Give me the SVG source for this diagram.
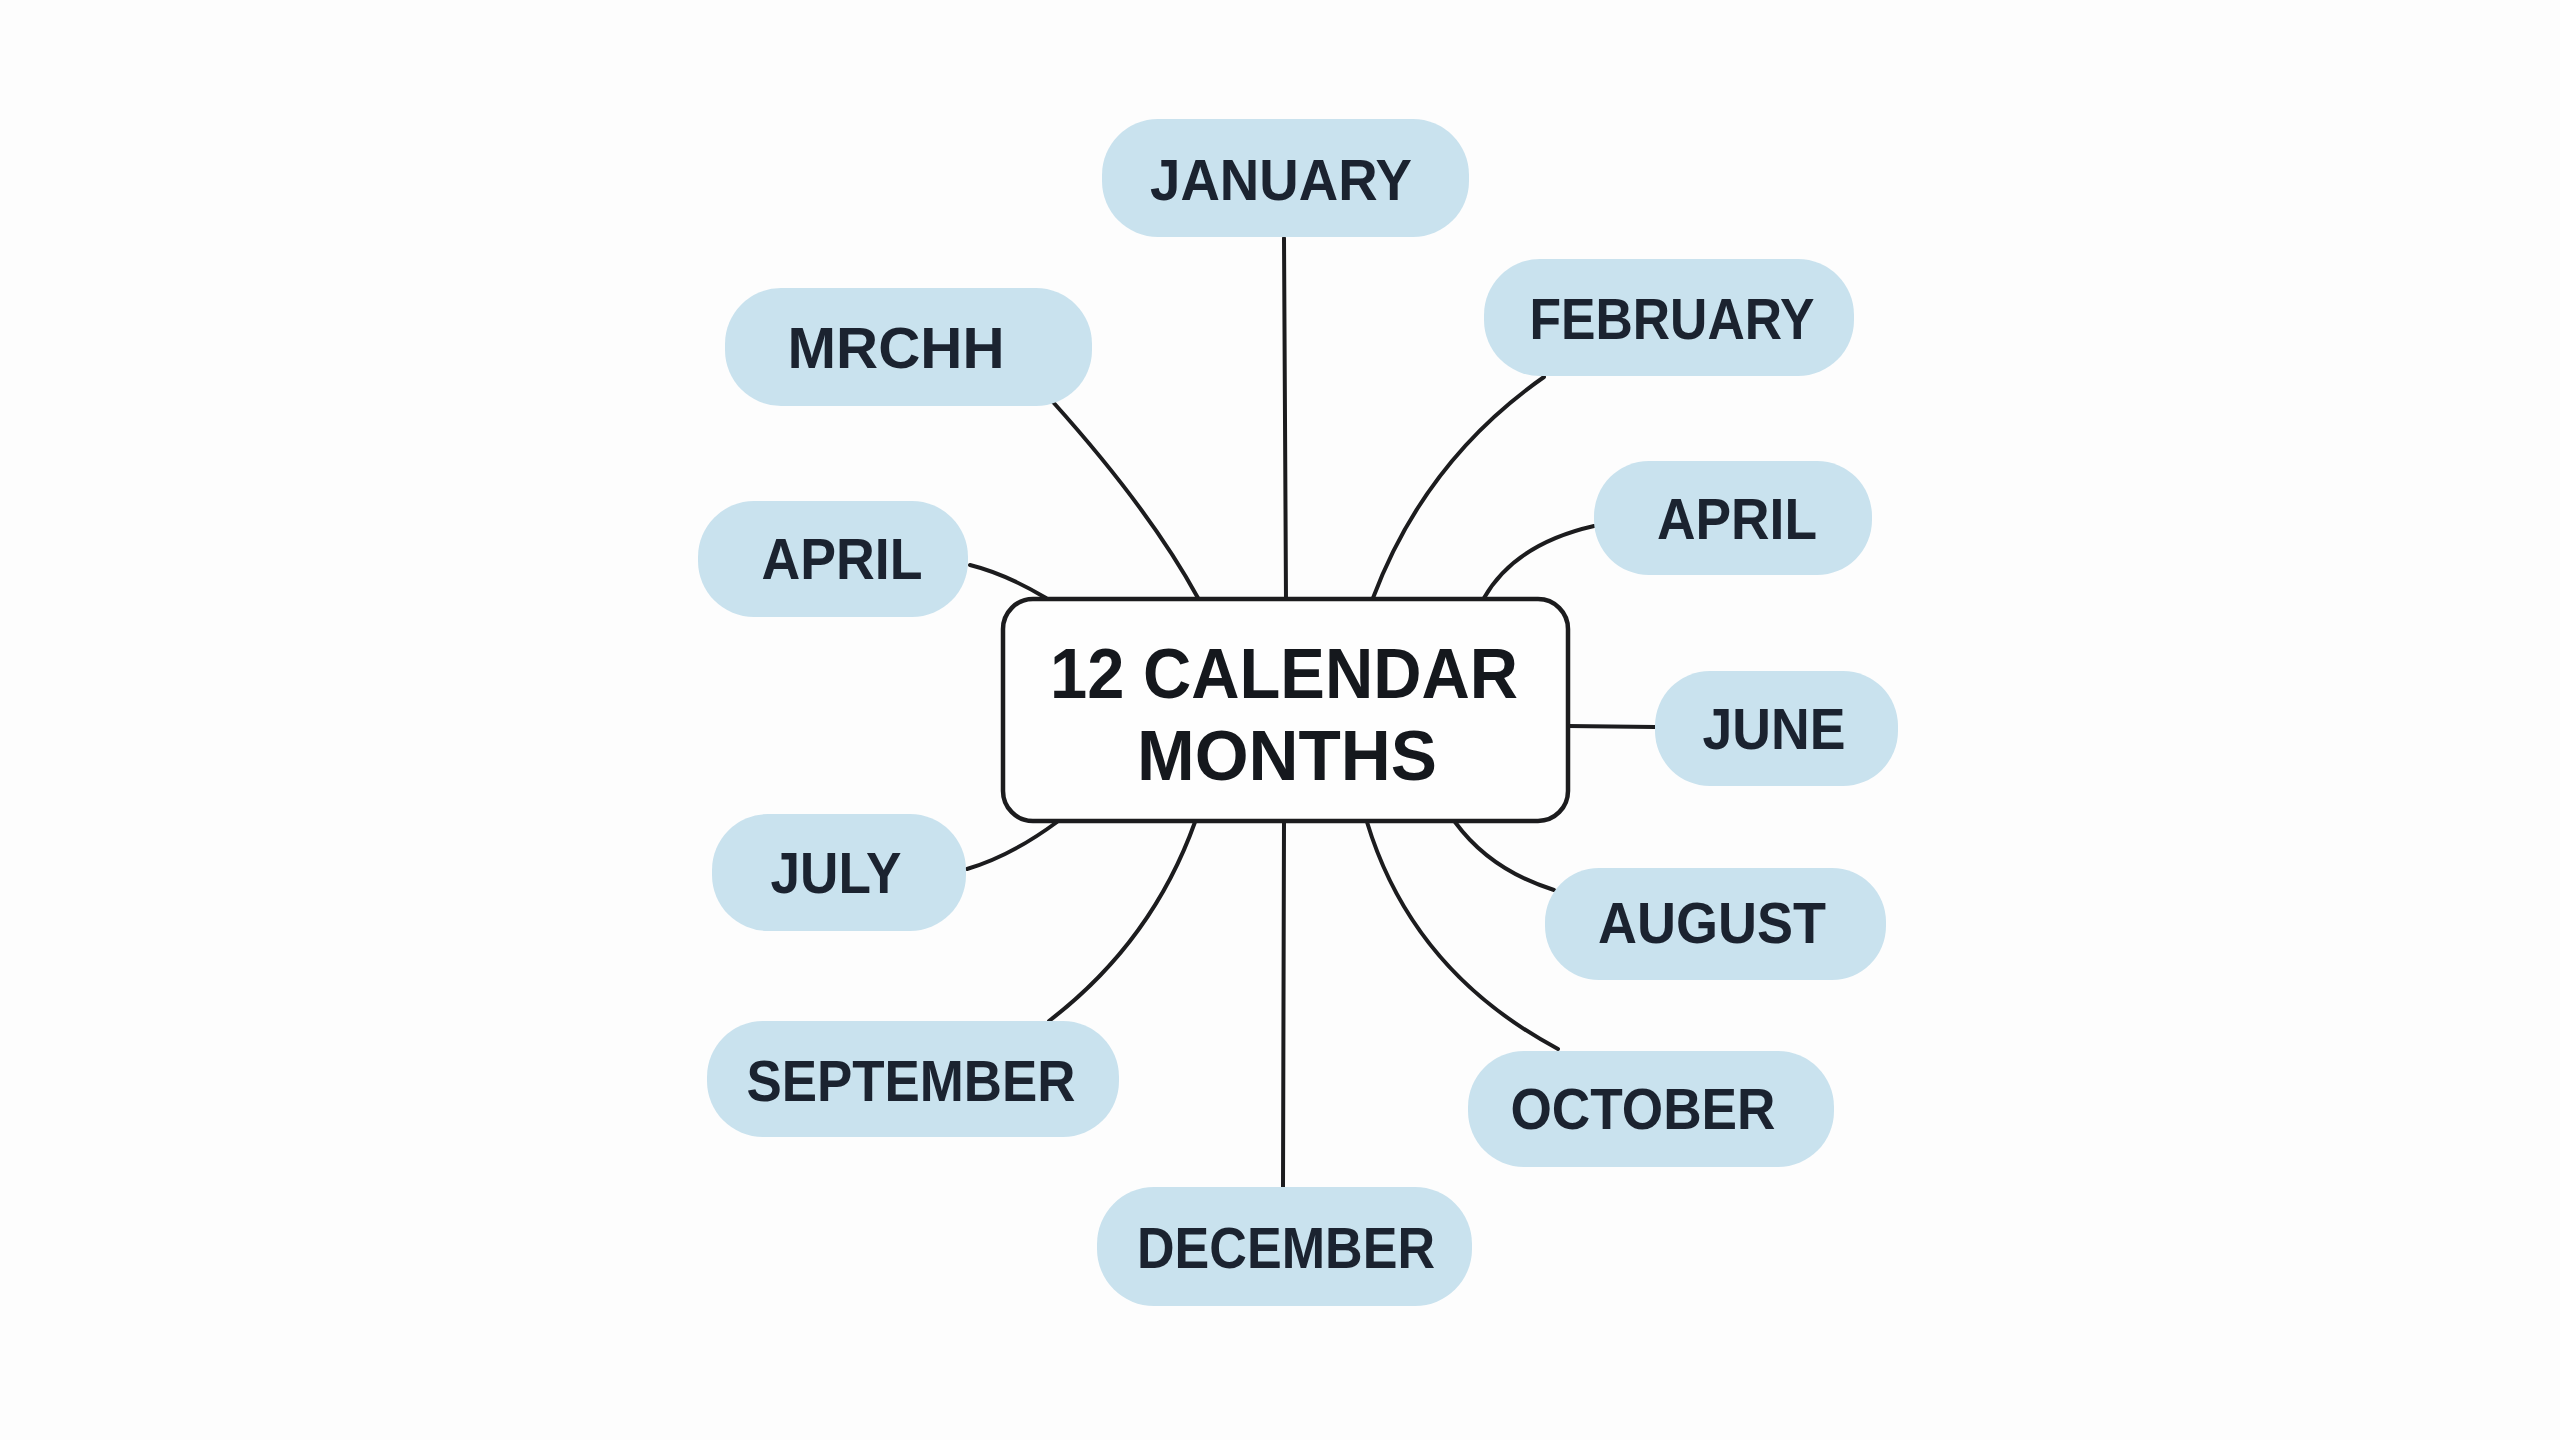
<svg xmlns="http://www.w3.org/2000/svg" width="2560" height="1440" viewBox="0 0 2560 1440">
<style>
.bg{fill:#fdfdfd}
.conn{fill:none;stroke:#1c1c1e;stroke-width:4;stroke-linecap:round}
.pill{fill:#c9e2ee}
.lbl{font-family:"Liberation Sans",Arial,sans-serif;font-weight:bold;font-size:57px;fill:#1b2330;text-anchor:middle}
.hub{fill:#fefefe;stroke:#1c1c1e;stroke-width:4.5}
.title{font-family:"Liberation Sans",Arial,sans-serif;font-weight:bold;font-size:71px;fill:#15181d;text-anchor:middle}
</style>
<rect class="bg" x="0" y="0" width="2560" height="1440"/>
<g id="connectors">
<path class="conn" d="M1284,238 L1286,600"/>
<path class="conn" d="M1053,402 Q1150,510 1198,598"/>
<path class="conn" d="M970,565 Q1006,574 1046,598"/>
<path class="conn" d="M1544,377 Q1425,460 1373,598"/>
<path class="conn" d="M1594,526 Q1515,544 1484,598"/>
<path class="conn" d="M1568,726 L1655,727"/>
<path class="conn" d="M967,869 Q1011,856 1057,822"/>
<path class="conn" d="M1049,1021 Q1152,942 1195,822"/>
<path class="conn" d="M1284,822 L1283,1187"/>
<path class="conn" d="M1367,822 Q1412,971 1558,1049"/>
<path class="conn" d="M1455,822 Q1490,870 1554,890"/>
</g>
<g id="hub">
<rect class="hub" x="1003" y="599" width="565" height="222" rx="30"/>
<text class="title" x="1284" y="698" textLength="468" lengthAdjust="spacingAndGlyphs">12 CALENDAR</text>
<text class="title" x="1287" y="780" textLength="300" lengthAdjust="spacingAndGlyphs">MONTHS</text>
</g>
<g id="january"><rect class="pill" x="1102" y="119" width="367" height="118" rx="56"/><text class="lbl" x="1281" y="200" textLength="262" lengthAdjust="spacingAndGlyphs">JANUARY</text></g>
<g id="mrchh"><rect class="pill" x="725" y="288" width="367" height="118" rx="56"/><text class="lbl" x="896" y="368" textLength="217" lengthAdjust="spacingAndGlyphs">MRCHH</text></g>
<g id="february"><rect class="pill" x="1484" y="259" width="370" height="117" rx="56"/><text class="lbl" x="1672" y="339" textLength="285" lengthAdjust="spacingAndGlyphs">FEBRUARY</text></g>
<g id="april-left"><rect class="pill" x="698" y="501" width="270" height="116" rx="56"/><text class="lbl" x="842" y="579" textLength="161" lengthAdjust="spacingAndGlyphs">APRIL</text></g>
<g id="april-right"><rect class="pill" x="1594" y="461" width="278" height="114" rx="55"/><text class="lbl" x="1737" y="539" textLength="160" lengthAdjust="spacingAndGlyphs">APRIL</text></g>
<g id="june"><rect class="pill" x="1655" y="671" width="243" height="115" rx="55"/><text class="lbl" x="1774" y="749" textLength="143" lengthAdjust="spacingAndGlyphs">JUNE</text></g>
<g id="july"><rect class="pill" x="712" y="814" width="254" height="117" rx="56"/><text class="lbl" x="836" y="893" textLength="131" lengthAdjust="spacingAndGlyphs">JULY</text></g>
<g id="august"><rect class="pill" x="1545" y="868" width="341" height="112" rx="54"/><text class="lbl" x="1712" y="943" textLength="228" lengthAdjust="spacingAndGlyphs">AUGUST</text></g>
<g id="september"><rect class="pill" x="707" y="1021" width="412" height="116" rx="56"/><text class="lbl" x="911" y="1101" textLength="329" lengthAdjust="spacingAndGlyphs">SEPTEMBER</text></g>
<g id="october"><rect class="pill" x="1468" y="1051" width="366" height="116" rx="56"/><text class="lbl" x="1643" y="1129" textLength="265" lengthAdjust="spacingAndGlyphs">OCTOBER</text></g>
<g id="december"><rect class="pill" x="1097" y="1187" width="375" height="119" rx="57"/><text class="lbl" x="1286" y="1268" textLength="298" lengthAdjust="spacingAndGlyphs">DECEMBER</text></g>
</svg>
